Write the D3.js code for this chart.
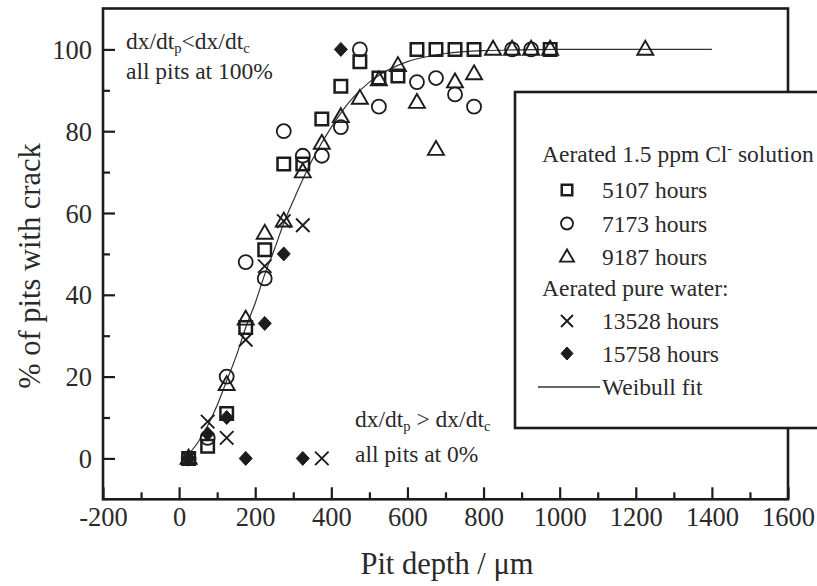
<!DOCTYPE html>
<html>
<head>
<meta charset="utf-8">
<script src="https://cdn.jsdelivr.net/npm/d3@7"></script>
<style>
  html, body { margin: 0; padding: 0; background: #fff; overflow: hidden; }
  svg { display: block; }
  svg text { font-family: "Liberation Serif", "DejaVu Serif", serif !important; }
</style>
</head>
<body>
<svg id="chart" width="817" height="586"></svg>
<script>
// ---- data (pit depth in µm, % of pits with crack) ----
const s5107 = [[25,0],[75,3],[125,11],[175,32],[225,51],[275,72],[325,72],[375,83],[425,91],[475,97],[525,93],[575,93.5],[625,100],[675,100],[725,100],[775,100],[975,100]];
const s7173 = [[25,0],[75,5],[125,20],[175,48],[225,44],[275,80],[325,74],[375,74],[425,81],[475,100],[525,86],[625,92],[675,93],[725,89],[775,86],[875,100],[925,100]];
const s9187 = [[25,0],[125,18],[175,34],[225,55],[275,58],[325,70],[375,77],[425,83.5],[475,88],[525,92.5],[575,96],[625,87],[675,75.5],[725,92],[775,94],[825,100],[875,100],[925,100],[975,100],[1225,100]];
const s13528 = [[25,0],[75,9],[125,5],[175,29],[225,47],[275,58],[325,57],[375,0]];
const s15758 = [[25,0],[75,6],[125,10],[175,0],[225,33],[275,50],[325,0],[425,100]];
const fitX = [25,50,75,100,125,150,175,200,225,250,275,300,350,400,450,500,550,600,650,700,800,900,1000,1400];
const fitY = [1,4,8,13,19,25,32,38,45,51,57.5,63,73,81,87.5,92,95,97,98.2,99,99.7,99.9,100,100];
const xMajor = [-200,0,200,400,600,800,1000,1200,1400,1600];
const xMinor = [-100,100,300,500,700,900,1100,1300,1500];
const yMajor = [0,20,40,60,80,100];
const yMinor = [10,30,50,70,90];
const legendLabels = ["5107 hours","7173 hours","9187 hours","13528 hours","15758 hours","Weibull fit"];

const FONT = "'Liberation Serif', 'DejaVu Serif', serif";
const svg = d3.select("#chart");
const L = 103, R = 788, T = 8.5, B = 499.3;
const x = d3.scaleLinear().domain([-200, 1600]).range([L, R]);
const y = d3.scaleLinear().domain([-10, 110]).range([B, T]);
const ink = "#1c1c1c";
const txt = "#2a2a2a";

// ---- axes (ticks inward) ----
const fmt = d => String(d);
const gx = svg.append("g").attr("transform", `translate(0,${B})`);
gx.call(d3.axisBottom(x).tickValues(xMajor).tickSize(-12).tickPadding(22).tickFormat(fmt));
const gxm = svg.append("g").attr("transform", `translate(0,${B})`);
gxm.call(d3.axisBottom(x).tickValues(xMinor).tickSize(-7).tickFormat(""));
const gy = svg.append("g").attr("transform", `translate(${L},0)`);
gy.call(d3.axisLeft(y).tickValues(yMajor).tickSize(-12).tickPadding(22).tickFormat(fmt));
const gym = svg.append("g").attr("transform", `translate(${L},0)`);
gym.call(d3.axisLeft(y).tickValues(yMinor).tickSize(-7).tickFormat(""));
[gx, gxm, gy, gym].forEach(g => {
  g.attr("font-family", FONT);
  g.select(".domain").remove();
  g.selectAll(".tick line").attr("stroke", ink).attr("stroke-width", 2.2);
  g.selectAll("text").attr("fill", txt).attr("font-size", 26.5).style("font-family", FONT);
});
gx.selectAll("text").attr("dy", "0.71em").attr("y", 8);
gy.selectAll("text").attr("x", -11).attr("dy", "0.34em");

// frame
svg.append("rect").attr("x", L).attr("y", T).attr("width", R - L).attr("height", B - T)
  .attr("fill", "none").attr("stroke", ink).attr("stroke-width", 2.6);

// ---- fit line ----
const fitData = fitX.map((d, i) => [d, fitY[i]]);
svg.append("path").datum(fitData)
  .attr("d", d3.line().x(d => x(d[0])).y(d => y(d[1])).curve(d3.curveMonotoneX))
  .attr("fill", "none").attr("stroke", "#333").attr("stroke-width", 1.2);

// ---- marker shapes ----
function sq(s){ const h=s/2; return `M${-h},${-h}H${h}V${h}H${-h}Z`; }
function tri(w){ const h=w*0.87; return `M0,${-h*0.62}L${w/2},${h*0.38}L${-w/2},${h*0.38}Z`; }
function cross(w){ const h=w/2; return `M${-h},${-h}L${h},${h}M${h},${-h}L${-h},${h}`; }
function diamond(w,hh){ return `M0,${-hh/2}L${w/2},0L0,${hh/2}L${-w/2},0Z`; }

const markers = [
  {data: s5107, path: sq(12.5), lpath: sq(10.5), fill: "none", sw: 2.5},
  {data: s7173, circle: 7, lcircle: 6, fill: "none", sw: 1.8},
  {data: s9187, path: tri(16), lpath: tri(14), fill: "none", sw: 1.9},
  {data: s13528, path: cross(13.5), lpath: cross(12), fill: "none", sw: 1.9},
  {data: s15758, path: diamond(13,14), lpath: diamond(12,13), fill: ink, sw: 1}
];

const gm = svg.append("g");
markers.forEach(m => {
  const sel = gm.append("g").selectAll("g").data(m.data).join("g")
    .attr("transform", d => `translate(${x(d[0])},${y(d[1])})`);
  if (m.circle) {
    sel.append("circle").attr("r", m.circle).attr("fill", "none").attr("stroke", ink).attr("stroke-width", m.sw);
  } else {
    sel.append("path").attr("d", m.path).attr("fill", m.fill).attr("stroke", ink).attr("stroke-width", m.sw);
  }
});

// ---- text helper ----
function T_(g, xx, yy, size) {
  return g.append("text").attr("x", xx).attr("y", yy).attr("font-size", size)
    .attr("fill", txt).style("font-family", FONT);
}
// parts: [main, sub, main, sub]
function subText(g, xx, yy, parts, size) {
  const t = T_(g, xx, yy, size);
  let shift = 0;
  parts.forEach((p, i) => {
    const isSub = i % 2 === 1;
    const target = isSub ? 4 : 0;
    const ts = t.append("tspan").attr("dy", target - shift).text(p);
    if (isSub) ts.attr("font-size", size * 0.62);
    shift = target;
  });
  return t;
}

// ---- annotations ----
subText(svg, 126, 49, ["dx/dt", "p", "<dx/dt", "c"], 23.5);
T_(svg, 126, 79, 23.5).text("all pits at 100%");
subText(svg, 355, 427, ["dx/dt", "p", " > dx/dt", "c"], 23.5);
T_(svg, 355, 462, 23.5).text("all pits at 0%");

// ---- axis titles ----
T_(svg, 447, 574, 30.5).attr("text-anchor", "middle").text("Pit depth / \u03BCm");
T_(svg, 0, 0, 30.5).attr("transform", "translate(40,266) rotate(-90)").attr("text-anchor", "middle")
  .text("% of pits with crack");

// ---- legend ----
const lg = svg.append("g");
lg.append("rect").attr("x", 515).attr("y", 92).attr("width", 330).attr("height", 336)
  .attr("fill", "#fff").attr("stroke", ink).attr("stroke-width", 2.6);
const h1 = T_(lg, 542, 162, 23.5);
h1.append("tspan").text("Aerated 1.5 ppm Cl");
h1.append("tspan").attr("font-size", 14).attr("dy", -9).text("-");
h1.append("tspan").attr("dy", 9).text(" solution");
T_(lg, 542, 296, 23.5).text("Aerated pure water:");
const legY = [198, 231.5, 265, 329, 361.5];
markers.forEach((m, i) => {
  const g = lg.append("g").attr("transform", `translate(567,${legY[i] - 8})`);
  if (m.lcircle) g.append("circle").attr("r", m.lcircle).attr("fill", "none").attr("stroke", ink).attr("stroke-width", m.sw);
  else g.append("path").attr("d", m.lpath).attr("fill", m.fill).attr("stroke", ink).attr("stroke-width", m.sw);
  T_(lg, 602, legY[i], 23.5).text(legendLabels[i]);
});
lg.append("line").attr("x1", 538).attr("x2", 600).attr("y1", 387).attr("y2", 387).attr("stroke", "#333").attr("stroke-width", 1.3);
T_(lg, 602, 395, 23.5).text(legendLabels[5]);
</script>
</body>
</html>
